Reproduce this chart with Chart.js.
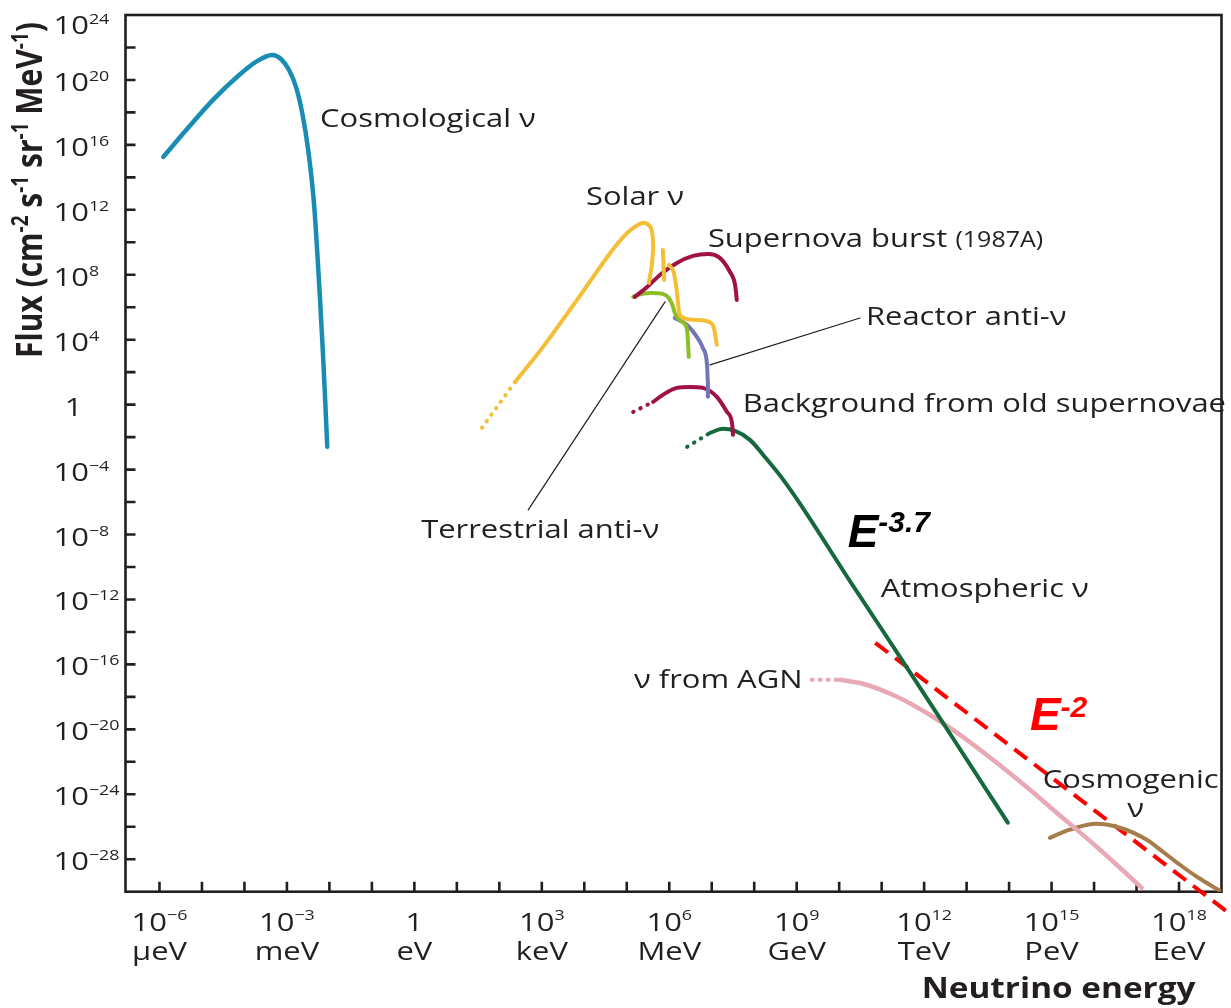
<!DOCTYPE html>
<html>
<head>
    <meta charset="utf-8">
    <title>Neutrino flux spectrum</title>
    <script src="https://cdn.jsdelivr.net/npm/chart.js"></script>
    <style>
        html, body { margin: 0; padding: 0; background: #fff; }
        #wrap { width: 1231px; height: 1008px; }
    </style>
</head>
<body>
<div id="wrap"><canvas id="flux-chart" width="1231" height="1008"></canvas></div>

<script>
    // All values are log10: energy in eV, flux in cm^-2 s^-1 sr^-1 MeV^-1
    const cosmoLogE = [-5.91, -5.33, -4.74, -4.15, -3.73, -3.35, -3.14, -2.95, -2.78, -2.64, -2.50, -2.36, -2.22, -2.15, -2.10, -2.05];
    const cosmoLogF = [15.26, 17.04, 18.77, 20.24, 21.11, 21.54, 21.29, 20.61, 19.51, 17.97, 15.69, 12.30, 6.45, 3.06, 0.29, -2.60];

    const solarDotLogE = [1.59, 2.37];
    const solarDotLogF = [-1.43, 1.40];
    const solarLogE = [2.37, 3.03, 3.83, 4.61, 5.01, 5.26, 5.43, 5.57, 5.62, 5.59, 5.52];
    const solarLogF = [1.40, 3.56, 6.45, 9.34, 10.58, 11.07, 11.19, 10.88, 9.84, 8.61, 7.50];
    const solarLineLogE = [5.85, 5.88];
    const solarLineLogF = [9.53, 7.68];
    const solarB8LogE = [5.99, 6.11, 6.18, 6.23, 6.30, 6.63, 6.93, 7.05, 7.12];
    const solarB8LogF = [8.61, 8.11, 6.94, 5.71, 5.40, 5.22, 5.10, 4.73, 3.68];

    const terrLogE = [5.15, 5.26, 5.55, 5.85, 5.99, 6.09, 6.13, 6.30, 6.42, 6.44, 6.46];
    const terrLogF = [6.64, 6.76, 6.88, 6.82, 6.57, 6.02, 5.65, 5.10, 4.60, 3.86, 2.94];

    const reactorLogE = [6.13, 6.42, 6.65, 6.79, 6.89, 6.91, 6.91];
    const reactorLogF = [5.34, 4.91, 4.17, 3.50, 2.45, 1.40, 0.48];

    const snBurstLogE = [5.19, 5.48, 5.78, 6.18, 6.56, 6.91, 7.19, 7.43, 7.55, 7.59];
    const snBurstLogF = [6.64, 7.25, 7.99, 8.73, 9.16, 9.28, 9.04, 8.17, 7.37, 6.45];

    const snBgDotLogE = [5.15, 5.62];
    const snBgDotLogF = [-0.45, 0.17];
    const snBgLogE = [5.62, 5.85, 6.18, 6.49, 6.79, 7.12, 7.36, 7.48, 7.50];
    const snBgLogF = [0.17, 0.60, 1.03, 1.09, 1.03, 0.48, -0.45, -1.18, -1.86];

    const atmoDotLogE = [6.42, 6.96];
    const atmoDotLogF = [-2.60, -1.74];
    const atmoLogE = [6.96, 7.26, 7.55, 7.90, 8.25, 8.65, 9.08, 10.25, 11.43, 12.61, 13.97];
    const atmoLogF = [-1.74, -1.49, -1.62, -2.17, -3.22, -4.51, -6.11, -10.85, -15.53, -20.27, -25.75];

    const agnDotLogE = [9.36, 10.02];
    const agnDotLogF = [-16.95, -16.95];
    const agnLogE = [10.02, 10.56, 11.36, 12.13, 12.91, 13.71, 14.49, 15.26, 16.06, 16.84, 17.12];
    const agnLogF = [-16.95, -17.19, -17.99, -19.10, -20.46, -22.06, -23.72, -25.45, -27.23, -29.08, -29.76];

    const cosmogenicLogE = [14.96, 15.43, 16.06, 16.61, 17.24, 17.62, 18.02, 18.42, 18.96];
    const cosmogenicLogF = [-26.68, -26.18, -25.82, -26.06, -26.80, -27.54, -28.34, -29.08, -29.94];

    // E^-2 reference line
    const e2LogE = [10.85, 19.15];
    const e2LogF = [-14.67, -31.27];

    // leader lines from labels to curves
    const terrLeaderLogE = [2.68, 5.90];
    const terrLeaderLogF = [-6.48, 6.33];
    const reactorLeaderLogE = [6.96, 10.49];
    const reactorLeaderLogF = [2.45, 5.34];

    // axes
    const xMinExp = -6.8, xMaxExp = 19;
    const yMinExp = -30, yMaxExp = 24;
    const xTickExps = [-6, -5, -4, -3, -2, -1, 0, 1, 2, 3, 4, 5, 6, 7, 8, 9, 10, 11, 12, 13, 14, 15, 16, 17, 18];
    const yTickExps = [-28, -26, -24, -22, -20, -18, -16, -14, -12, -10, -8, -6, -4, -2, 0, 2, 4, 6, 8, 10, 12, 14, 16, 18, 20, 22];
    const xLabelExps = [-6, -3, 0, 3, 6, 9, 12, 15, 18];
    const xUnitLabels = ['μeV', 'meV', 'eV', 'keV', 'MeV', 'GeV', 'TeV', 'PeV', 'EeV'];
    const yLabelExps = [24, 20, 16, 12, 8, 4, 0, -4, -8, -12, -16, -20, -24, -28];

    const INK = '#231f20';
    const SANS = '"Open Sans", "Noto Sans", "DejaVu Sans", sans-serif';
    const ARIAL = '"Liberation Sans", Arial, sans-serif';
    const SX = 1.19; // type in the source figure is stretched sideways

    // text labels placed at data positions (log10 E, log10 flux)
    const notes = [
        { at: [-2.22, 17.10], parts: [{ t: 'Cosmological ν' }] },
        { at: [4.04, 12.30], parts: [{ t: 'Solar ν' }] },
        { at: [6.91, 9.71], parts: [{ t: 'Supernova burst ' }, { t: '(1987A)', size: 21 }] },
        { at: [10.63, 4.91], parts: [{ t: 'Reactor anti-ν' }] },
        { at: [7.73, -0.45], parts: [{ t: 'Background from old supernovae' }] },
        { at: [0.16, -8.20], parts: [{ t: 'Terrestrial anti-ν' }] },
        { at: [10.98, -11.84], parts: [{ t: 'Atmospheric ν' }] },
        { at: [5.17, -17.44], parts: [{ t: 'ν from AGN' }] },
        { at: [14.79, -23.60], parts: [{ t: 'Cosmogenic' }] },
        { at: [16.98, -25.38], parts: [{ t: 'ν' }], align: 'center' },
        { at: [10.20, -8.76], parts: [{ t: 'E', size: 46 }, { t: '-3.7', size: 30, rise: 15 }],
          opts: { family: ARIAL, weight: 700, style: 'italic', sx: 1, color: '#000' } },
        { at: [14.49, -20.03], parts: [{ t: 'E', size: 46 }, { t: '-2', size: 30, rise: 13 }],
          opts: { family: ARIAL, weight: 700, style: 'italic', sx: 1, color: '#ff0000' } }
    ];

    function series(logE, logF, color, width, extra) {
        return Object.assign({
            data: logE.map((e, i) => ({ x: Math.pow(10, e), y: Math.pow(10, logF[i]) })),
            showLine: true,
            borderColor: color,
            backgroundColor: color,
            borderWidth: width,
            pointRadius: 0,
            pointHoverRadius: 0,
            cubicInterpolationMode: 'monotone',
            borderCapStyle: 'round',
            borderJoinStyle: 'round',
            fill: false
        }, extra || {});
    }
    const dotted = { borderDash: [0.5, 7.5], cubicInterpolationMode: 'default', tension: 0 };
    const straight = { cubicInterpolationMode: 'default', tension: 0 };

    const datasets = [
        series(cosmoLogE, cosmoLogF, '#188cb2', 4.5),
        series(solarDotLogE, solarDotLogF, '#f4be37', 4, dotted),
        series(solarLogE, solarLogF, '#f4be37', 4, { cubicInterpolationMode: 'default', tension: 0.3 }),
        series(solarLineLogE, solarLineLogF, '#f4be37', 4, straight),
        series(solarB8LogE, solarB8LogF, '#f4be37', 4),
        series(snBurstLogE, snBurstLogF, '#a01246', 4),
        series(terrLogE, terrLogF, '#8dbe28', 4),
        series(reactorLogE, reactorLogF, '#7373b9', 4),
        series(snBgDotLogE, snBgDotLogF, '#a01246', 4, dotted),
        series(snBgLogE, snBgLogF, '#a01246', 4),
        series(atmoDotLogE, atmoDotLogF, '#16693c', 4, dotted),
        series(atmoLogE, atmoLogF, '#16693c', 4),
        series(agnDotLogE, agnDotLogF, '#e9a8b6', 4.5, dotted),
        series(agnLogE, agnLogF, '#e9a8b6', 4.5),
        series(cosmogenicLogE, cosmogenicLogF, '#a57d4b', 4),
        series(e2LogE, e2LogF, '#ff0000', 4, Object.assign({}, straight, { borderDash: [16, 9], borderCapStyle: 'butt', clip: false })),
        series(terrLeaderLogE, terrLeaderLogF, INK, 1.2, straight),
        series(reactorLeaderLogE, reactorLeaderLogF, INK, 1.2, straight)
    ];

    // draws a run of text pieces (with optional superscripts) starting at x,y
    function drawRich(ctx, parts, x, y, o) {
        o = o || {};
        ctx.save();
        ctx.translate(x, y);
        ctx.scale(o.sx !== undefined ? o.sx : SX, 1);
        if (o.rotate) ctx.rotate(o.rotate);
        ctx.fillStyle = o.color || INK;
        ctx.textBaseline = 'alphabetic';
        ctx.textAlign = 'left';
        const fonts = parts.map(p => `${o.style || 'normal'} ${o.weight || 400} ${p.size || o.size || 26}px ${o.family || SANS}`);
        const widths = parts.map((p, i) => { ctx.font = fonts[i]; return ctx.measureText(p.t).width; });
        const total = widths.reduce((a, b) => a + b, 0);
        let cx = o.align === 'center' ? -total / 2 : (o.align === 'right' ? -total : 0);
        parts.forEach((p, i) => {
            ctx.font = fonts[i];
            ctx.fillText(p.t, cx, -(p.rise || 0));
            cx += widths[i];
        });
        ctx.restore();
    }

    const axesAndText = {
        id: 'axesAndText',
        beforeDatasetsDraw(chart) {
            const { ctx, chartArea: a, scales: { x, y } } = chart;
            ctx.save();
            ctx.strokeStyle = INK;
            ctx.lineWidth = 2.6;
            ctx.strokeRect(a.left, a.top, a.right - a.left, a.bottom - a.top);
            ctx.beginPath();
            yTickExps.forEach(e => {
                const py = y.getPixelForValue(Math.pow(10, e));
                ctx.moveTo(a.left, py);
                ctx.lineTo(a.left + 10, py);
            });
            xTickExps.forEach(e => {
                const px = x.getPixelForValue(Math.pow(10, e));
                ctx.moveTo(px, a.bottom);
                ctx.lineTo(px, a.bottom - 10);
            });
            ctx.stroke();
            ctx.restore();
        },
        afterDraw(chart) {
            const { ctx, chartArea: a, scales: { x, y } } = chart;

            // y tick labels
            yLabelExps.forEach(e => {
                const py = Math.max(y.getPixelForValue(Math.pow(10, e)) + 2, 25);
                const base = py + 9;
                if (e === 0) {
                    drawRich(ctx, [{ t: '1' }], a.left - 52, base, { align: 'center' });
                } else {
                    drawRich(ctx, [{ t: '10' }, { t: (e < 0 ? '−' : '') + Math.abs(e), size: 15, rise: 10 }], a.left - 72, base);
                }
            });

            // x tick labels, two lines: power of ten and unit
            xLabelExps.forEach((e, i) => {
                const px = x.getPixelForValue(Math.pow(10, e));
                const top = e === 0 ? [{ t: '1' }] : [{ t: '10' }, { t: (e < 0 ? '−' : '') + Math.abs(e), size: 15, rise: 11 }];
                drawRich(ctx, top, px, a.bottom + 39, { align: 'center' });
                drawRich(ctx, [{ t: xUnitLabels[i] }], px, a.bottom + 68, { align: 'center' });
            });

            // axis titles
            drawRich(ctx, [{ t: 'Neutrino energy' }], a.right - 26, a.bottom + 106, { weight: 700, size: 28, align: 'right' });
            drawRich(ctx, [
                { t: 'Flux (cm' }, { t: '-2', size: 19, rise: 12 },
                { t: ' s' }, { t: '-1', size: 19, rise: 12 },
                { t: ' sr' }, { t: '-1', size: 19, rise: 12 },
                { t: ' MeV' }, { t: '-1', size: 19, rise: 12 },
                { t: ')' }
            ], 42, 190, { weight: 700, size: 30, rotate: -Math.PI / 2, align: 'center' });

            // curve labels
            notes.forEach(n => {
                const px = x.getPixelForValue(Math.pow(10, n.at[0]));
                const py = y.getPixelForValue(Math.pow(10, n.at[1]));
                drawRich(ctx, n.parts, px, py, Object.assign({ align: n.align }, n.opts || {}));
            });
        }
    };

    new Chart(document.getElementById('flux-chart').getContext('2d'), {
        type: 'scatter',
        data: { datasets: datasets },
        options: {
            responsive: false,
            devicePixelRatio: 1,
            animation: false,
            events: [],
            layout: { padding: { left: 125.5, top: 15, right: 9.5, bottom: 116.3 } },
            scales: {
                x: { type: 'logarithmic', display: false, min: Math.pow(10, xMinExp), max: Math.pow(10, xMaxExp) },
                y: { type: 'logarithmic', display: false, min: Math.pow(10, yMinExp), max: Math.pow(10, yMaxExp) }
            },
            plugins: {
                legend: { display: false },
                tooltip: { enabled: false }
            }
        },
        plugins: [axesAndText]
    });
</script>
</body>
</html>
